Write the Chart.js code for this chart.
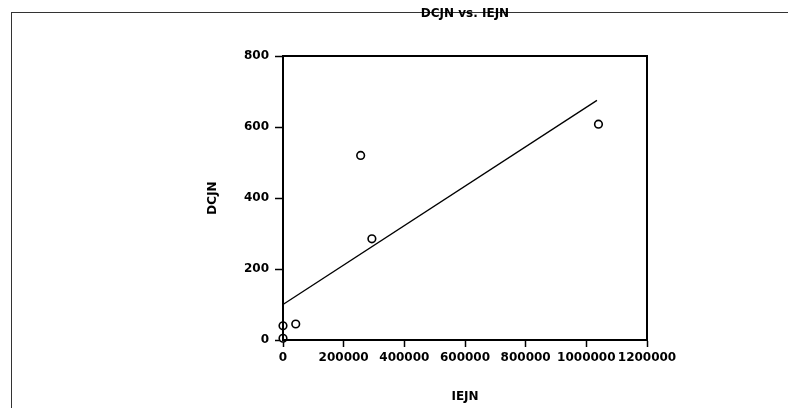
<!DOCTYPE html>
<html>
<head>
<meta charset="utf-8">
<script src="https://cdn.jsdelivr.net/npm/chart.js@4/dist/chart.umd.min.js"></script>
<style>
  html, body { margin: 0; padding: 0; background: #fff; }
  #wrap { position: relative; width: 788px; height: 408px; }
  #frame { position: absolute; left: 11px; top: 12px; right: 0; bottom: 0;
           border-left: 1px solid #333; border-top: 1px solid #333; }
  canvas { position: absolute; left: 0; top: 0; }
</style>
</head>
<body>
<div id="wrap">
  <div id="frame"></div>
  <canvas id="chart" width="788" height="408"></canvas>
</div>
<script>
// observed points
const iejn = [0, 0, 42000, 256000, 293000, 1040000];
const dcjn = [5, 40, 45, 520, 285, 608];
// fitted line ends
const fitX = [0, 1035000];
const fitY = [100, 675];

const xTicks = [0, 200000, 400000, 600000, 800000, 1000000, 1200000];
const yTicks = [0, 200, 400, 600, 800];

Chart.defaults.color = "#000";
Chart.defaults.font.family = "'DejaVu Sans', Arial, sans-serif";

// box round the plot area
const plotBox = {
  id: "plotBox",
  afterDraw(chart) {
    const { ctx, chartArea: a } = chart;
    ctx.save();
    ctx.strokeStyle = "#000";
    ctx.lineWidth = 2;
    ctx.strokeRect(a.left, a.top, a.right - a.left, a.bottom - a.top);
    ctx.restore();
  },
};

const ctx = document.getElementById("chart").getContext("2d");
new Chart(ctx, {
  type: "scatter",
  data: {
    datasets: [
      {
        label: "DCJN",
        data: iejn.map((x, i) => ({ x, y: dcjn[i] })),
        pointRadius: 3.8,
        pointBorderWidth: 1.6,
        pointBackgroundColor: "#fff",
        pointBorderColor: "#000",
        clip: false,
      },
      {
        type: "line",
        label: "fit",
        data: fitX.map((x, i) => ({ x, y: fitY[i] })),
        borderColor: "#000",
        borderWidth: 1.3,
        pointRadius: 0,
        fill: false,
      },
    ],
  },
  options: {
    responsive: false,
    animation: false,
    layout: { padding: { left: 200, right: 141, top: 7, bottom: 4 } },
    plugins: {
      legend: { display: false },
      tooltip: { enabled: false },
      title: {
        display: true,
        text: "DCJN vs. IEJN",
        fullSize: false,
        font: { size: 12, weight: "bold" },
        padding: { top: 0, bottom: 34.6 },
      },
    },
    scales: {
      x: {
        type: "linear",
        min: 0,
        max: 1200000,
        afterFit: (s) => { s.height = 64; },
        afterBuildTicks: (s) => { s.ticks = xTicks.map((v) => ({ value: v })); },
        ticks: {
          autoSkip: false,
          maxRotation: 0,
          padding: 4,
          font: { size: 12, weight: "bold" },
          callback: (v) => String(v),
        },
        grid: { drawOnChartArea: false, tickLength: 7, color: "#000", tickWidth: 1.5 },
        border: { color: "#000", width: 2 },
        title: {
          display: true,
          text: "IEJN",
          font: { size: 12, weight: "bold" },
          padding: 0,
        },
      },
      y: {
        min: 0,
        max: 800,
        afterFit: (s) => { s.width = 83; },
        afterBuildTicks: (s) => { s.ticks = yTicks.map((v) => ({ value: v })); },
        ticks: {
          padding: 6,
          font: { size: 12, weight: "bold" },
          callback: (v) => String(v),
        },
        grid: { drawOnChartArea: false, tickLength: 8, color: "#000", tickWidth: 1.5 },
        border: { color: "#000", width: 2 },
        title: {
          display: true,
          text: "DCJN",
          font: { size: 12, weight: "bold" },
          padding: { top: 6, bottom: 0 },
        },
      },
    },
  },
  plugins: [plotBox],
});
</script>
</body>
</html>
